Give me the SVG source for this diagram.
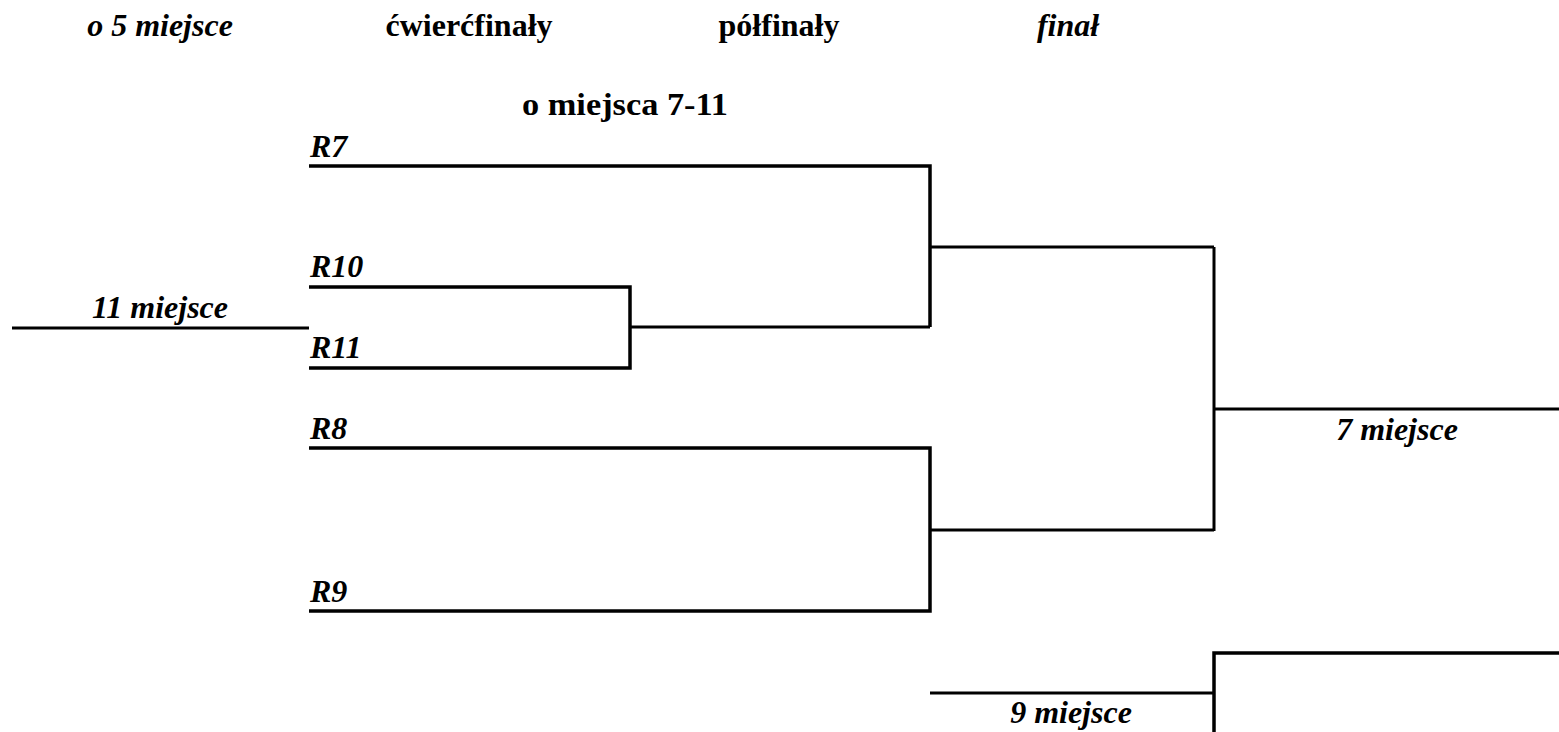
<svg xmlns="http://www.w3.org/2000/svg" width="1559" height="732" viewBox="0 0 1559 732">
<style>
text{font-family:"Liberation Serif","Times New Roman",serif;font-weight:bold;font-size:32px;fill:#000}
.i{font-style:italic}
.m{text-anchor:middle}
.l{stroke:#000;stroke-width:3.5;fill:none}
.t{stroke:#000;stroke-width:3;fill:none}
</style>
<rect width="1559" height="732" fill="#fff"/>
<g id="headers">
<text class="i m" x="160" y="36">o 5 miejsce</text>
<text class="m" x="469" y="36">ćwierćfinały</text>
<text class="m" x="779" y="36">półfinały</text>
<text class="i m" x="1068" y="36">finał</text>
<text class="m" x="625" y="115" textLength="206" lengthAdjust="spacingAndGlyphs">o miejsca 7-11</text>
</g>
<g id="connectors">
<path class="l" d="M309 166H930V327"/>
<path class="t" d="M930 247H1214"/>
<path class="l" d="M309 287H630V368H309"/>
<path class="t" d="M630 327H930"/>
<path class="t" d="M12 328H309"/>
<path class="l" d="M309 448H930V611H309"/>
<path class="t" d="M930 530H1214"/>
<path class="t" d="M1214 247V531"/>
<path class="t" d="M1213 409H1559"/>
<path class="t" d="M930 693H1214"/>
<path class="l" d="M1214 732V653H1559"/>
</g>
<g id="R7"><text class="i" x="310" y="157">R7</text></g>
<g id="R10"><text class="i" x="310" y="277">R10</text></g>
<g id="R11"><text class="i" x="310" y="358">R11</text></g>
<g id="R8"><text class="i" x="310" y="439">R8</text></g>
<g id="R9"><text class="i" x="310" y="602">R9</text></g>
<g id="place11"><text class="i m" x="160" y="318">11 miejsce</text></g>
<g id="place7"><text class="i m" x="1397" y="440">7 miejsce</text></g>
<g id="place9"><text class="i m" x="1071" y="723">9 miejsce</text></g>
</svg>
